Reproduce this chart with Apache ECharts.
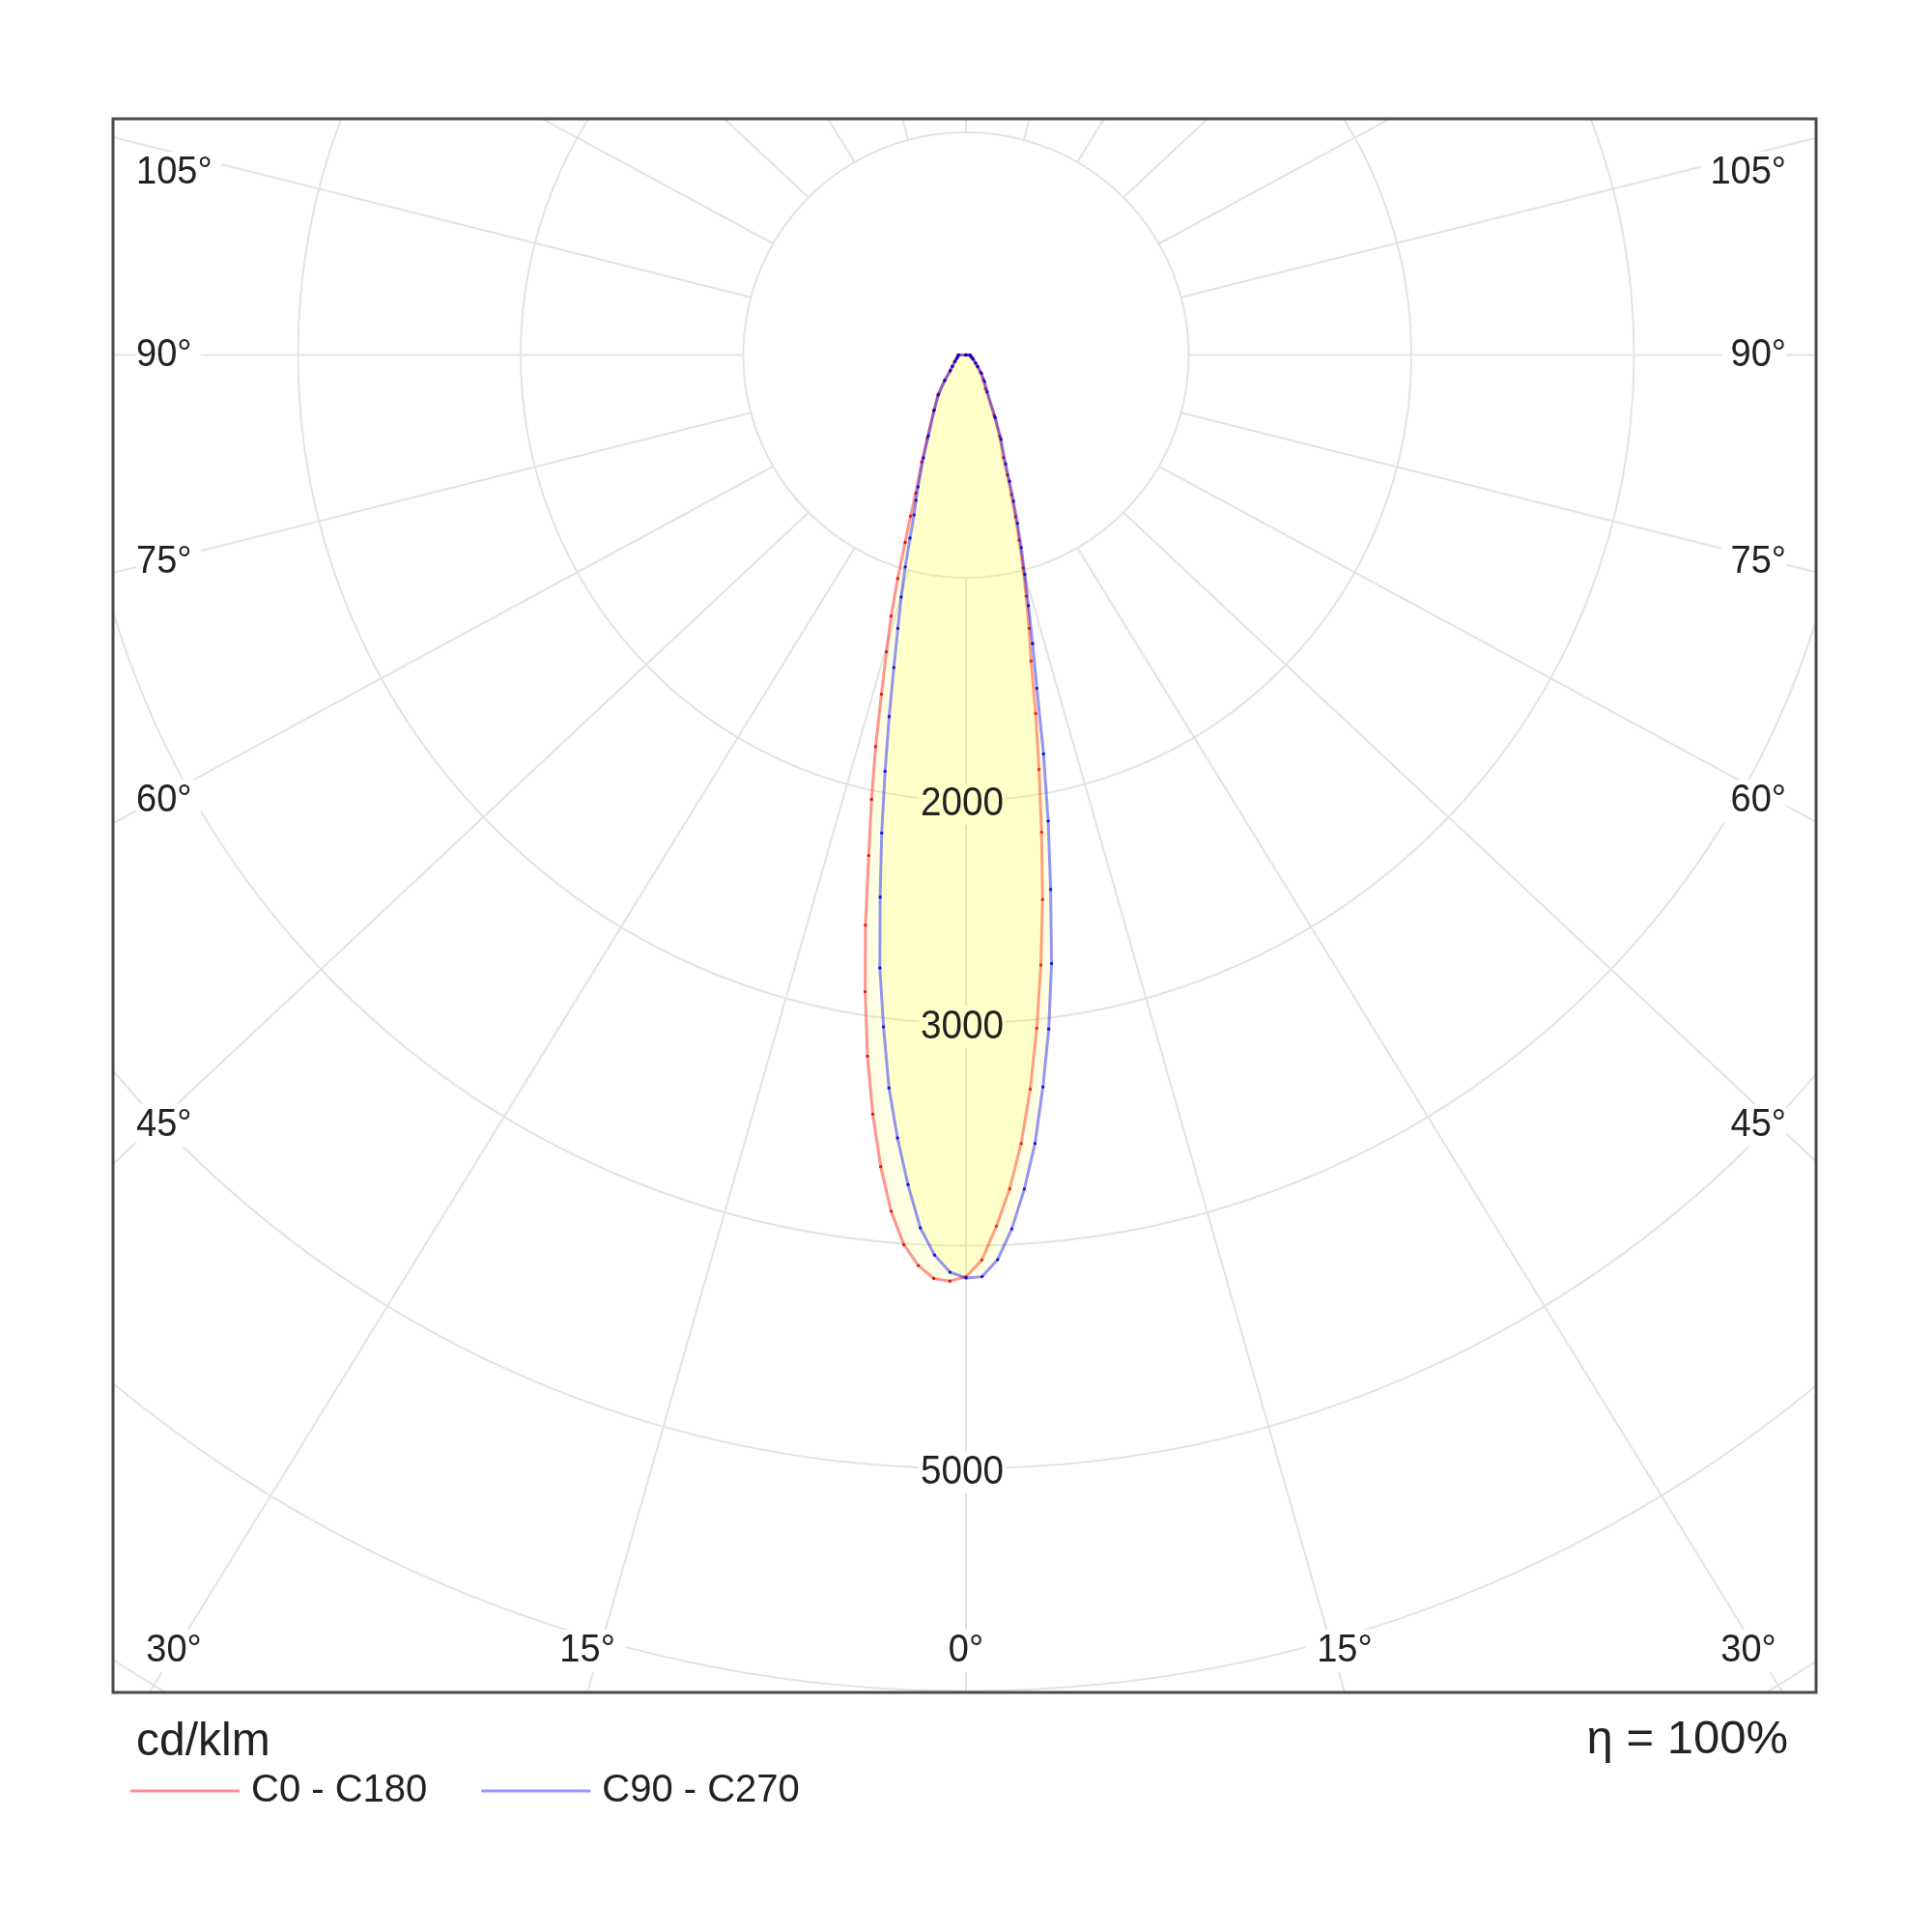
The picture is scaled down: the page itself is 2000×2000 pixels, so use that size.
<!DOCTYPE html>
<html>
<head>
<meta charset="utf-8">
<script src="https://cdn.jsdelivr.net/npm/echarts@6/dist/echarts.min.js"></script>
<style>
  html, body { margin: 0; padding: 0; background: #fff; }
  #chart { width: 2000px; height: 2000px; }
</style>
</head>
<body>
<div id="chart"></div>
<script>
  // gamma angles (deg from nadir) and intensities in cd/klm
  var GAMMA = [0, 1, 2, 3, 4, 5, 6, 7, 8, 9, 10, 11, 12, 13, 14, 15, 16, 17, 18, 19, 20, 22.5, 25, 30, 35, 40, 45, 50, 60, 70, 80, 90, 180];
  var C180 = [4140, 4160, 4150, 4095, 4005, 3860, 3665, 3435, 3180, 2895, 2600, 2290, 2040, 1805, 1570, 1380, 1220, 1050, 885, 765, 660, 520, 410, 290, 220, 150, 100, 80, 58, 45, 38, 35, 0];
  var C0 = [4140, 4065, 3915, 3750, 3550, 3310, 3040, 2760, 2470, 2170, 1890, 1640, 1405, 1260, 1116, 990, 865, 760, 660, 570, 490, 395, 300, 175, 135, 100, 72, 55, 35, 25, 20, 17, 0];
  var C270 = [4145, 4120, 4045, 3925, 3735, 3530, 3310, 3040, 2780, 2465, 2180, 1905, 1660, 1440, 1265, 1125, 990, 860, 755, 690, 630, 500, 400, 285, 215, 148, 100, 80, 57, 44, 37, 33, 0];
  var C90 = [4145, 4140, 4065, 3930, 3755, 3555, 3305, 3050, 2760, 2430, 2125, 1825, 1530, 1330, 1160, 1020, 900, 790, 690, 600, 520, 410, 310, 190, 145, 108, 75, 57, 37, 27, 21, 18, 0];

  var PLANES = ['C0 - C180', 'C90 - C270'];
  var RINGS = [1000, 2000, 3000, 4000, 5000, 6000, 7000];
  var RING_LABELS = [2000, 3000, 5000];
  var ANGLE_LINES = [0, 15, 30, 45, 60, 75, 90, 105, 120, 135, 150, 165, 180];
  var SIDE_LABELS = [45, 60, 75, 90, 105];
  var BOTTOM_LABELS = [0, 15, 30];
  var UNIT = 'cd/klm';
  var EFFICIENCY = '\u03b7 = 100%';

  // layout (pixels)
  var FRAME = { left: 117, top: 123, right: 1880, bottom: 1752 };
  var CX = 1000, CY = 367.5, PX = 0.2305;  // px per cd/klm
  var SQUASH = 0.944;                      // radial lines follow the frame aspect
  var FONT = '"Liberation Sans", Arial, sans-serif';
  var GRID_COLOR = '#e3e3e3';
  var D2R = Math.PI / 180;

  function toXY(g, v, side) {
    return [side * v * Math.sin(g * D2R), -v * Math.cos(g * D2R)];
  }

  function planePoints(left, right) {
    var pts = [];
    for (var i = GAMMA.length - 1; i >= 0; i--) pts.push(toXY(GAMMA[i], left[i], -1));
    for (var j = 1; j < GAMMA.length; j++) pts.push(toXY(GAMMA[j], right[j], 1));
    return pts;
  }

  // radial line in px: start on first ring, far end squashed
  function radial(api, a, side) {
    var p1 = api.coord(toXY(a, RINGS[0], side));
    var far = 9000;
    var p2 = api.coord([side * far * Math.sin(a * D2R), -far * SQUASH * Math.cos(a * D2R)]);
    return [p1, p2];
  }

  var radialData = [];
  ANGLE_LINES.forEach(function(a) {
    radialData.push([a, 1]);
    if (a !== 0 && a !== 180) radialData.push([a, -1]);
  });

  var angleLabelData = [];
  SIDE_LABELS.forEach(function(a) { angleLabelData.push([a, -1, 0]); angleLabelData.push([a, 1, 0]); });
  BOTTOM_LABELS.forEach(function(a) {
    angleLabelData.push([a, 1, 1]);
    if (a !== 0) angleLabelData.push([a, -1, 1]);
  });

  function ringLabel(withBg) {
    return function(params, api) {
      var r = RING_LABELS[params.dataIndex];
      var p = api.coord([0, -r]);
      return { type: 'text', x: p[0] - 4, y: p[1] + 4, scaleX: 0.9,
               style: { text: String(r), font: '43px ' + FONT, fill: withBg ? 'rgba(0,0,0,0)' : '#222',
                        align: 'center', verticalAlign: 'middle',
                        backgroundColor: withBg ? '#fff' : null, padding: [0, 2] } };
    };
  }

  function curveRenderer(pts, stroke, dot, fill) {
    return function(params, api) {
      var px = pts.map(function(p) { return api.coord(p); });
      var children = [
        { type: 'polygon', shape: { points: px }, style: { fill: fill, stroke: 'none' } },
        { type: 'polyline', shape: { points: px }, style: { fill: 'none', stroke: stroke, lineWidth: 3 } }
      ];
      px.forEach(function(p) {
        children.push({ type: 'circle', shape: { cx: p[0], cy: p[1], r: 1.7 }, style: { fill: dot } });
      });
      return { type: 'group', children: children };
    };
  }

  var chart = echarts.init(document.getElementById('chart'));

  var option = {
    backgroundColor: '#fff',
    animation: false,
    grid: {
      left: FRAME.left, top: FRAME.top,
      width: FRAME.right - FRAME.left, height: FRAME.bottom - FRAME.top
    },
    xAxis: { type: 'value', show: false, min: (FRAME.left - CX) / PX, max: (FRAME.right - CX) / PX },
    yAxis: { type: 'value', show: false, min: -(FRAME.bottom - CY) / PX, max: (CY - FRAME.top) / PX },
    legend: {
      left: 135, top: 1834, padding: 0,
      icon: 'rect', itemWidth: 113, itemHeight: 3, itemGap: 56,
      data: PLANES,
      textStyle: { fontSize: 40, fontFamily: FONT, color: '#222', padding: [0, 0, 0, 7] }
    },
    graphic: [
      {
        type: 'rect', z: 100, silent: true,
        shape: { x: FRAME.left, y: FRAME.top, width: FRAME.right - FRAME.left, height: FRAME.bottom - FRAME.top },
        style: { fill: 'none', stroke: '#4a4a4a', lineWidth: 3 }
      },
      {
        type: 'text', left: 141, top: 1780, z: 100,
        style: { text: UNIT, font: '48px ' + FONT, fill: '#222' }
      },
      {
        type: 'text', right: 149, top: 1777, z: 100,
        style: { text: EFFICIENCY, font: '49px ' + FONT, fill: '#222' }
      }
    ],
    series: [
      {
        type: 'custom', z: 1, silent: true, clip: true,
        data: RINGS.map(function(r) { return [r, 0]; }),
        renderItem: function(params, api) {
          var c = api.coord([0, 0]);
          var rad = api.size([RINGS[params.dataIndex], 0])[0];
          return { type: 'circle', shape: { cx: c[0], cy: c[1], r: rad },
                   style: { fill: 'none', stroke: GRID_COLOR, lineWidth: 2 } };
        }
      },
      {
        type: 'custom', z: 1, silent: true, clip: true,
        data: radialData,
        renderItem: function(params, api) {
          var d = radialData[params.dataIndex];
          var p = radial(api, d[0], d[1]);
          return { type: 'line', shape: { x1: p[0][0], y1: p[0][1], x2: p[1][0], y2: p[1][1] },
                   style: { stroke: GRID_COLOR, lineWidth: 2 } };
        }
      },
      {
        // white masks behind the ring values, under the light fill
        type: 'custom', z: 2, silent: true,
        data: RING_LABELS.map(function(r) { return [0, -r]; }),
        renderItem: ringLabel(true)
      },
      {
        type: 'custom', z: 2, silent: true,
        data: angleLabelData,
        renderItem: function(params, api) {
          var d = angleLabelData[params.dataIndex];
          var a = d[0], side = d[1], bottom = d[2];
          var p = radial(api, a, side);
          var dx = p[1][0] - p[0][0], dy = p[1][1] - p[0][1];
          var x, y, align;
          if (bottom) {
            var xb = Math.abs(dy) < 1e-6 ? p[0][0] : p[0][0] + dx * (FRAME.bottom - p[0][1]) / dy;
            x = Math.max(FRAME.left + 63, Math.min(FRAME.right - 70, xb));
            y = FRAME.bottom - 43;
            align = 'center';
          } else {
            var xs = CX + side * 840;
            y = Math.abs(dx) < 1e-6 ? p[0][1] : p[0][1] + dy * (xs - p[0][0]) / dx;
            y = Math.max(FRAME.top + 56, y);
            x = side < 0 ? FRAME.left + 24 : FRAME.right - 31;
            align = side < 0 ? 'left' : 'right';
          }
          return { type: 'text', x: x, y: y, scaleX: 0.95,
                   style: { text: a + '\u00b0', font: '40px ' + FONT, fill: '#222', align: align,
                            verticalAlign: 'middle', backgroundColor: '#fff',
                            padding: align === 'left' ? [2, 10, 2, 0] : align === 'right' ? [2, 0, 2, 10] : [2, 12] } };
        }
      },
      {
        name: PLANES[0], type: 'custom', z: 3, silent: true,
        itemStyle: { color: 'rgba(255,70,70,0.6)' },
        data: [[0, 0]],
        renderItem: curveRenderer(planePoints(C180, C0), 'rgba(255,0,0,0.42)', 'rgba(220,0,0,0.85)', 'rgba(255,255,0,0.11)')
      },
      {
        name: PLANES[1], type: 'custom', z: 3, silent: true,
        itemStyle: { color: 'rgba(80,80,255,0.6)' },
        data: [[0, 0]],
        renderItem: curveRenderer(planePoints(C270, C90), 'rgba(0,0,255,0.42)', 'rgba(0,0,220,0.85)', 'rgba(255,255,0,0.11)')
      },
      {
        // ring values drawn above the fill
        type: 'custom', z: 4, silent: true,
        data: RING_LABELS.map(function(r) { return [0, -r]; }),
        renderItem: ringLabel(false)
      }
    ]
  };

  chart.setOption(option);
</script>
</body>
</html>
